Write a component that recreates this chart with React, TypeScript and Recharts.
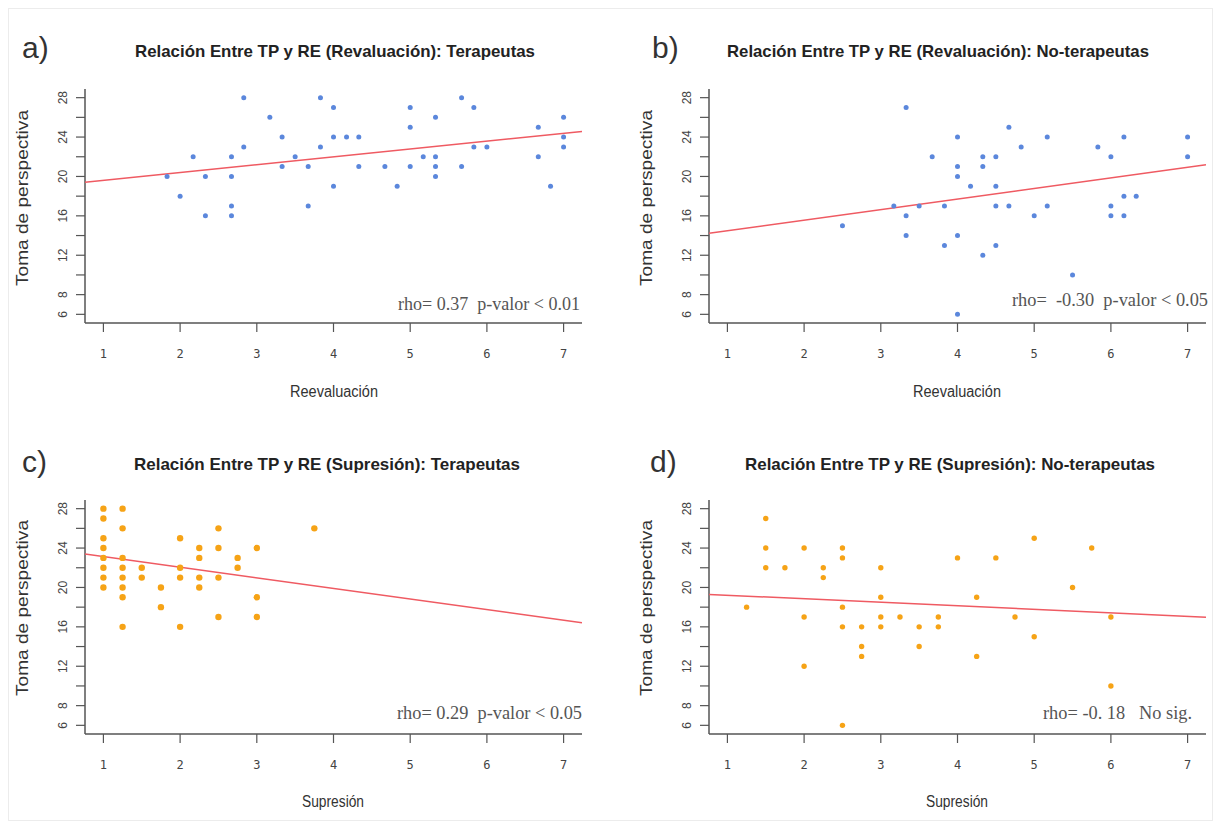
import React from 'react';
import { ScatterChart, Scatter, XAxis, YAxis } from 'recharts';

type Pt = { x: number; y: number };
const toPts = (arr: number[][]): Pt[] => arr.map(([x, y]) => ({ x, y }));

// ejes (comunes a los cuatro paneles)
const xTicks = [1, 2, 3, 4, 5, 6, 7];
const yTicks = [6, 8, 10, 12, 14, 16, 18, 20, 22, 24, 26, 28];
const yTickLabels = [6, 8, 12, 16, 20, 24, 28];
const xDomain = [0.76, 7.24];
const yDomain = [5.12, 28.88];

// a) Reevaluación - Terapeutas
const reevTerapeutas = toPts([
  [1.83, 20], [2, 18], [2.17, 22], [2.33, 20], [2.33, 16], [2.67, 22], [2.67, 20], [2.67, 17],
  [2.67, 16], [2.83, 28], [2.83, 23], [3.17, 26], [3.33, 24], [3.33, 21], [3.5, 22], [3.67, 21],
  [3.67, 17], [3.83, 28], [3.83, 23], [4, 27], [4, 24], [4, 19], [4.17, 24], [4.33, 24],
  [4.33, 21], [4.67, 21], [4.83, 19], [5, 27], [5, 25], [5, 21], [5.17, 22], [5.33, 26],
  [5.33, 22], [5.33, 21], [5.33, 20], [5.67, 28], [5.67, 21], [5.83, 27], [5.83, 23], [6, 23],
  [6.67, 25], [6.67, 22], [6.83, 19], [7, 26], [7, 24], [7, 23],
]);

// b) Reevaluación - No-terapeutas
const reevNoTerapeutas = toPts([
  [2.5, 15], [3.17, 17], [3.33, 27], [3.33, 16], [3.33, 14], [3.5, 17], [3.67, 22], [3.83, 17],
  [3.83, 13], [4, 24], [4, 21], [4, 20], [4, 14], [4, 6], [4.17, 19], [4.33, 22],
  [4.33, 21], [4.33, 12], [4.5, 22], [4.5, 19], [4.5, 17], [4.5, 13], [4.67, 25], [4.67, 17],
  [4.83, 23], [5, 16], [5.17, 24], [5.17, 17], [5.5, 10], [5.83, 23], [6, 22], [6, 17],
  [6, 16], [6.17, 24], [6.17, 18], [6.17, 16], [6.33, 18], [7, 24], [7, 22],
]);

// c) Supresión - Terapeutas
const supTerapeutas = toPts([
  [1, 28], [1, 27], [1, 25], [1, 24], [1, 23], [1, 22], [1, 21], [1, 20],
  [1.25, 28], [1.25, 26], [1.25, 23], [1.25, 22], [1.25, 21], [1.25, 20], [1.25, 19], [1.25, 16],
  [1.5, 22], [1.5, 21], [1.75, 20], [1.75, 18], [2, 25], [2, 22], [2, 21], [2, 16],
  [2.25, 24], [2.25, 23], [2.25, 21], [2.25, 20], [2.5, 26], [2.5, 24], [2.5, 21], [2.5, 17],
  [2.75, 23], [2.75, 22], [3, 24], [3, 19], [3, 17], [3.75, 26],
]);

// d) Supresión - No-terapeutas
const supNoTerapeutas = toPts([
  [1.25, 18], [1.5, 27], [1.5, 24], [1.5, 22], [1.75, 22], [2, 24], [2, 17], [2, 12],
  [2.25, 22], [2.25, 21], [2.5, 24], [2.5, 23], [2.5, 18], [2.5, 16], [2.5, 6], [2.75, 16],
  [2.75, 14], [2.75, 13], [3, 22], [3, 19], [3, 17], [3, 16], [3.25, 17], [3.5, 16],
  [3.5, 14], [3.75, 17], [3.75, 16], [4, 23], [4.25, 19], [4.25, 13], [4.5, 23], [4.75, 17],
  [5, 25], [5, 15], [5.5, 20], [5.75, 24], [6, 17], [6, 10],
]);

// rectas de ajuste (extremos del dominio)
const fitA = toPts([[0.76, 19.4], [7.24, 24.57]]);
const fitB = toPts([[0.76, 14.23], [7.24, 21.18]]);
const fitC = toPts([[0.76, 23.39], [7.24, 16.41]]);
const fitD = toPts([[0.76, 19.29], [7.24, 16.98]]);

const AXIS = '#555';
const LINE = '#ef5a62';
const BLUE = '#5b87dc';
const ORANGE = '#f6a316';

function XTick(props: any) {
  const { x, y, payload } = props;
  return (
    <text x={x} y={y + 10} textAnchor="middle" fontFamily="DejaVu Sans Mono, monospace" fontSize={12} fill="#444">
      {payload.value}
    </text>
  );
}

function YTick(props: any) {
  const { x, y, payload } = props;
  if (!yTickLabels.includes(payload.value)) return <g />;
  const bx = x - 3;
  return (
    <text x={bx} y={y} transform={`rotate(-90 ${bx} ${y})`} textAnchor="middle" fontFamily="Liberation Sans, Arial" fontSize={12} fill="#444">
      {payload.value}
    </text>
  );
}

function Panel({ left, top, data, fit, color, r }: { left: number; top: number; data: Pt[]; fit: Pt[]; color: string; r: number }) {
  return (
    <div style={{ position: 'absolute', left, top }}>
      <ScatterChart width={610} height={414} margin={{ top: 89, right: 28, bottom: 51, left: 40 }}>
        <XAxis
          type="number" dataKey="x" domain={xDomain} ticks={xTicks} interval={0} allowDataOverflow
          height={40} tickSize={9} tickMargin={16}
          axisLine={{ stroke: AXIS, strokeWidth: 1.5 }} tickLine={{ stroke: AXIS, strokeWidth: 1.2 }}
          tick={(p: any) => <XTick {...p} />}
        />
        <YAxis
          type="number" dataKey="y" domain={yDomain} ticks={yTicks} interval={0} allowDataOverflow
          width={45} tickSize={9} tickMargin={6}
          axisLine={{ stroke: AXIS, strokeWidth: 1.5 }} tickLine={{ stroke: AXIS, strokeWidth: 1.2 }}
          tick={(p: any) => <YTick {...p} />}
        />
        <Scatter data={fit} line={{ stroke: LINE, strokeWidth: 1.5 }} shape={() => <g />} isAnimationActive={false} />
        <Scatter
          data={data} fill={color} isAnimationActive={false}
          shape={(p: any) => <circle cx={p.cx} cy={p.cy} r={r} fill={color} />}
        />
      </ScatterChart>
    </div>
  );
}

const titleFont = 'Liberation Sans, Arial, sans-serif';
const noteFont = 'Liberation Serif, DejaVu Serif, serif';

// textos de cada panel: letra, título, eje x, nota
const letters = [
  { t: 'a)', x: 22, y: 58 },
  { t: 'b)', x: 652, y: 58 },
  { t: 'c)', x: 22, y: 472 },
  { t: 'd)', x: 650, y: 472 },
];
const titles = [
  { t: 'Relación Entre TP y RE (Revaluación): Terapeutas', cx: 335, y: 57, w: 400 },
  { t: 'Relación Entre TP y RE (Revaluación): No-terapeutas', cx: 938, y: 57, w: 422 },
  { t: 'Relación Entre TP y RE (Supresión): Terapeutas', cx: 327, y: 470, w: 386 },
  { t: 'Relación Entre TP y RE (Supresión): No-terapeutas', cx: 950, y: 470, w: 410 },
];
const xTitles = [
  { t: 'Reevaluación', cx: 334, y: 397, w: 88 },
  { t: 'Reevaluación', cx: 957, y: 397, w: 88 },
  { t: 'Supresión', cx: 333, y: 807, w: 62 },
  { t: 'Supresión', cx: 957, y: 807, w: 62 },
];
const yTitles = [
  { cx: 22, cy: 198 },
  { cx: 646, cy: 198 },
  { cx: 22, cy: 608 },
  { cx: 646, cy: 608 },
];
const notes = [
  { t: 'rho= 0.37  p-valor < 0.01', x: 398, y: 310, w: 182 },
  { t: 'rho=  -0.30  p-valor < 0.05', x: 1012, y: 306, w: 196 },
  { t: 'rho= 0.29  p-valor < 0.05', x: 397, y: 719, w: 185 },
  { t: 'rho= -0. 18   No sig.', x: 1043, y: 719, w: 149 },
];

export default function App() {
  return (
    <div style={{ position: 'absolute', left: 0, top: 0, width: 1221, height: 829, background: '#fff' }}>
      <Panel left={0} top={0} data={reevTerapeutas} fit={fitA} color={BLUE} r={2.5} />
      <Panel left={624} top={0} data={reevNoTerapeutas} fit={fitB} color={BLUE} r={2.5} />
      <Panel left={0} top={411} data={supTerapeutas} fit={fitC} color={ORANGE} r={3.2} />
      <Panel left={624} top={411} data={supNoTerapeutas} fit={fitD} color={ORANGE} r={2.7} />
      <svg width={1221} height={829} style={{ position: 'absolute', left: 0, top: 0, pointerEvents: 'none' }}>
        <rect x={8.5} y={8.5} width={1204} height={812} fill="none" stroke="#ececec" />
        {letters.map((l) => (
          <text key={l.t} x={l.x} y={l.y} fontFamily={titleFont} fontSize={30} fill="#333">{l.t}</text>
        ))}
        {titles.map((t) => (
          <text key={t.t + t.cx} x={t.cx} y={t.y} textAnchor="middle" fontFamily={titleFont} fontWeight="bold" fontSize={17} fill="#222" textLength={t.w} lengthAdjust="spacingAndGlyphs">{t.t}</text>
        ))}
        {xTitles.map((t, i) => (
          <text key={i} x={t.cx} y={t.y} textAnchor="middle" fontFamily={titleFont} fontSize={16} fill="#333" textLength={t.w} lengthAdjust="spacingAndGlyphs">{t.t}</text>
        ))}
        {yTitles.map((t, i) => (
          <text key={i} x={t.cx + 6} y={t.cy} transform={`rotate(-90 ${t.cx + 6} ${t.cy})`} textAnchor="middle" fontFamily={titleFont} fontSize={17} fill="#333" textLength={176} lengthAdjust="spacingAndGlyphs">Toma de perspectiva</text>
        ))}
        {notes.map((n, i) => (
          <text key={i} x={n.x} y={n.y} fontFamily={noteFont} fontSize={18} fill="#555" style={{ whiteSpace: 'pre' }} textLength={n.w} lengthAdjust="spacingAndGlyphs">{n.t}</text>
        ))}
      </svg>
    </div>
  );
}
